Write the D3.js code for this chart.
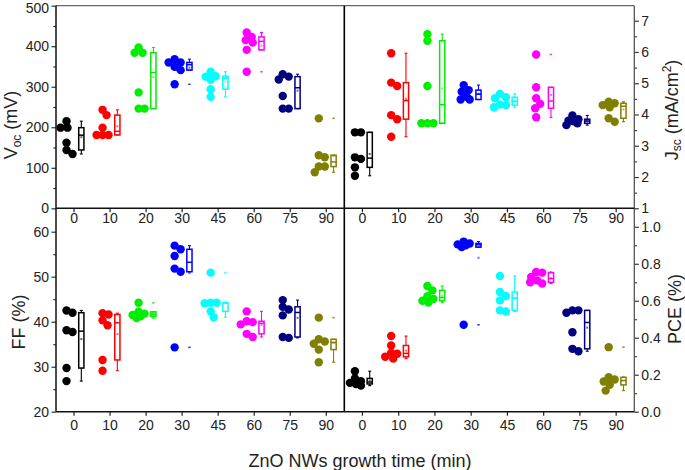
<!DOCTYPE html>
<html><head><meta charset="utf-8">
<script src="https://cdn.jsdelivr.net/npm/d3@7"></script>
<style>body{margin:0;background:#fff} svg{display:block} text{font-family:"Liberation Sans",Arial,sans-serif}</style>
</head><body><svg id="c" width="685" height="470"></svg>
<script>
const categories = ["0","10","20","30","45","60","75","90"];
const colors = ["#000000","#ff0000","#00ee00","#0000ff","#00ffff","#ff00ff","#000080","#808000"];
const vocValues = [[215,199,199,162,144,134],[243,230,199,181,181,181],[397,384,384,286,246,246],[368,360,360,349,341,306],[337,326,325,317,294,275],[434,423,415,409,391,337],[331,325,318,277,246,246],[222,131,126,103,103,89]];
const jscValues = [[3.43,3.43,2.63,2.58,2.31,2.04],[5.96,5.02,4.91,3.98,3.85,3.29],[6.57,6.36,4.91,3.72,3.72,3.72],[4.94,4.78,4.73,4.57,4.48,4.48],[4.66,4.55,4.52,4.32,4.30,4.23],[5.92,4.87,4.52,4.34,4.20,3.91],[3.97,3.85,3.80,3.78,3.72,3.66],[4.41,4.36,4.30,4.23,3.88,3.77]];
const ffValues = [[42.5,42.0,38.1,37.7,29.7,26.8],[41.9,41.6,40.3,39.2,31.5,29.1],[44.2,42.2,41.8,41.5,41.2,40.8],[56.9,56.1,54.6,51.8,51.1,34.3],[50.9,44.2,44.2,44.1,42.3,41.0],[42.3,40.1,39.9,39.4,37.3,36.6],[44.8,43.3,42.7,41.4,36.6,36.4],[40.9,36.1,35.6,35.1,33.8,31.0]];
const pceValues = [[0.219,0.180,0.165,0.156,0.150,0.141],[0.409,0.358,0.318,0.313,0.297,0.287],[0.680,0.656,0.625,0.610,0.600,0.590],[0.920,0.910,0.905,0.900,0.890,0.470],[0.734,0.647,0.626,0.602,0.548,0.542],[0.756,0.752,0.729,0.710,0.700,0.693],[0.548,0.548,0.535,0.430,0.340,0.327],[0.349,0.186,0.174,0.163,0.145,0.114]];
const vocTicks = [0,100,200,300,400,500];
const vocMinor = [50,150,250,350,450];
const jscTicks = [1,2,3,4,5,6,7];
const jscMinor = [1.5,2.5,3.5,4.5,5.5,6.5];
const ffTicks = [20,30,40,50,60];
const ffMinor = [25,35,45,55];
const pceTicks = [0,0.2,0.4,0.6,0.8,1.0];
const pceMinor = [0.1,0.3,0.5,0.7,0.9];
const xTitle = "ZnO NWs growth time (min)";

const svg = d3.select("#c");
const X0 = 56, XM = 344.3, X1 = 634.3, Y0 = 5.7, YM = 208.3, Y1 = 411.7;
const xL = d3.scaleBand().domain(categories).range([X0, XM]);
const xR = d3.scaleBand().domain(categories).range([XM, X1]);
const yVoc = d3.scaleLinear().domain([0,500]).range([YM, Y0]);
const yJsc = d3.scaleLinear().domain([1,7.48]).range([YM, Y0]);
const yFF = d3.scaleLinear().domain([20,65.2]).range([Y1, YM]);
const yPCE = d3.scaleLinear().domain([0,1.1]).range([Y1, YM]);

function stats(vals){
  const s = vals.slice().sort(d3.ascending), n = s.length, h = Math.floor(n/2);
  const lower = s.slice(0, n%2 ? h+1 : h), upper = s.slice(h);
  const q1 = d3.median(lower), q3 = d3.median(upper), med = d3.median(s);
  const iqr = q3-q1, lo = q1-1.5*iqr, hi = q3+1.5*iqr;
  const inside = s.filter(v => v>=lo && v<=hi);
  return {q1, q3, med, mean:d3.mean(s), wlo:d3.min(inside), whi:d3.max(inside), outliers:s.filter(v => v<lo || v>hi)};
}
function swarm(vals, y){
  const D = 6.5, maxDx = 6, placed = [], out = new Array(vals.length);
  const order = vals.map((v,i)=>i).sort((a,b)=>vals[b]-vals[a]);
  order.forEach(i => {
    const py = y(vals[i]);
    let best = 0, bestScore = -1;
    for (let k=0; k<=2*maxDx; k++){
      const dx = (k%2 ? 1 : -1)*Math.ceil(k/2);
      let md = Infinity;
      placed.forEach(p => { md = Math.min(md, Math.hypot(p.x-dx, p.y-py)); });
      if (md >= D){ best = dx; break; }
      if (md > bestScore){ bestScore = md; best = dx; }
    }
    placed.push({x:best, y:py}); out[i] = best;
  });
  return out;
}

const panels = [
  {values:vocValues, x:xL, y:yVoc},
  {values:jscValues, x:xR, y:yJsc},
  {values:ffValues, x:xL, y:yFF},
  {values:pceValues, x:xR, y:yPCE}
];

panels.forEach(p => {
  const g = svg.append("g");
  p.values.forEach((vals, ci) => {
    const c = p.x(categories[ci]) + p.x.bandwidth()/2;
    const col = colors[ci];
    const dxs = swarm(vals, p.y);
    g.selectAll(null).data(vals).join("circle")
      .attr("cx", (d,i) => c - 7.5 + dxs[i]).attr("cy", d => p.y(d)).attr("r", 4.2).attr("fill", col);
    const st = stats(vals), bx = c + 7.3, bw = 5.2;
    const bg = g.append("g").attr("stroke", col).attr("fill", "none").attr("stroke-width", 1.5);
    bg.append("line").attr("x1", bx).attr("x2", bx).attr("y1", p.y(st.q3)).attr("y2", p.y(st.whi)).attr("stroke-width", 1.1);
    bg.append("line").attr("x1", bx).attr("x2", bx).attr("y1", p.y(st.q1)).attr("y2", p.y(st.wlo)).attr("stroke-width", 1.1);
    [st.whi, st.wlo].forEach(v => bg.append("line").attr("x1", bx-1.5).attr("x2", bx+1.5).attr("y1", p.y(v)).attr("y2", p.y(v)).attr("stroke-width", 1.1));
    bg.append("rect").attr("x", bx-bw/2).attr("width", bw).attr("y", p.y(st.q3)).attr("height", Math.max(0.5, p.y(st.q1)-p.y(st.q3)));
    bg.append("line").attr("x1", bx-bw/2).attr("x2", bx+bw/2).attr("y1", p.y(st.med)).attr("y2", p.y(st.med));
    g.append("rect").attr("x", bx-1).attr("y", p.y(st.mean)-1).attr("width", 2).attr("height", 2).attr("fill", col).attr("opacity", 0.6);
    g.selectAll(null).data(st.outliers).join("rect")
      .attr("x", bx-1.2).attr("y", d => p.y(d)-0.8).attr("width", 2.4).attr("height", 1.6).attr("fill", col).attr("opacity", 0.8);
  });
});

// axes
const fnt = g => g.selectAll("text").attr("font-size", 14).attr("fill", "#222").attr("font-family", '"Liberation Sans",Arial,sans-serif');
function yAxis(axisFn, scale, ticks, minor, xpos, fmt){
  svg.append("g").attr("transform", `translate(${xpos},0)`)
    .call(axisFn(scale).tickValues(ticks).tickSize(4.5).tickPadding(2.5).tickSizeOuter(0).tickFormat(fmt))
    .call(g => g.select(".domain").remove()).call(fnt)
    .call(g => g.selectAll("text").filter(d => scale(d) < 10).attr("dy", "0.5em"))
    .call(g => g.selectAll("line").attr("stroke", "#333").attr("stroke-width", 1.2));
  svg.append("g").attr("transform", `translate(${xpos},0)`)
    .call(axisFn(scale).tickValues(minor).tickSize(2.8).tickSizeOuter(0).tickFormat(""))
    .call(g => g.select(".domain").remove())
    .call(g => g.selectAll("line").attr("stroke", "#333").attr("stroke-width", 1.1));
}
yAxis(d3.axisLeft, yVoc, vocTicks, vocMinor, X0, d3.format("d"));
yAxis(d3.axisLeft, yFF, ffTicks, ffMinor, X0, d3.format("d"));
yAxis(d3.axisRight, yJsc, jscTicks, jscMinor, X1, d3.format("d"));
yAxis(d3.axisRight, yPCE, pceTicks, pceMinor, X1, d3.format(".1f"));

function xAxis(scale, ypos, pad){
  svg.append("g").attr("transform", `translate(0,${ypos})`)
    .call(d3.axisBottom(scale).tickSize(4).tickPadding(pad).tickSizeOuter(0))
    .call(g => g.select(".domain").remove()).call(fnt)
    .call(g => g.selectAll("line").attr("stroke", "#222").attr("stroke-width", 1.2));
}
xAxis(xL, YM, 1.2); xAxis(xR, YM, 1.2);
xAxis(xL, Y1, 4.3); xAxis(xR, Y1, 4.3);

const frame = svg.append("g").attr("fill", "none");
frame.append("line").attr("x1", X0).attr("x2", X1).attr("y1", Y0).attr("y2", Y0).attr("stroke", "#666").attr("stroke-width", 1.2);
frame.append("line").attr("x1", X1).attr("x2", X1).attr("y1", Y0).attr("y2", Y1).attr("stroke", "#555").attr("stroke-width", 1.3);
frame.append("line").attr("x1", X0).attr("x2", X0).attr("y1", Y0).attr("y2", Y1).attr("stroke", "#111").attr("stroke-width", 1.5);
frame.append("line").attr("x1", XM).attr("x2", XM).attr("y1", Y0).attr("y2", Y1).attr("stroke", "#000").attr("stroke-width", 1.6);
frame.append("line").attr("x1", X0).attr("x2", X1).attr("y1", YM).attr("y2", YM).attr("stroke", "#111").attr("stroke-width", 1.4);
frame.append("line").attr("x1", X0).attr("x2", X1).attr("y1", Y1).attr("y2", Y1).attr("stroke", "#111").attr("stroke-width", 1.4);

// titles
function rotTitle(x, y, parts){
  const t = svg.append("text").attr("transform", `translate(${x},${y}) rotate(-90)`)
    .attr("text-anchor", "middle").attr("font-size", 18).attr("fill", "#222");
  parts.forEach(([s, size, dy]) => t.append("tspan").attr("font-size", size).attr("dy", dy).text(s));
}
rotTitle(17, 125, [["V",18,0],["oc",12,4],[" (mV)",18,-4]]);
rotTitle(25, 322, [["FF (%)",18,0]]);
rotTitle(678, 110, [["J",18,0],["sc",12,3],[" (mA/cm",18,-3],["2",12,-7],[")",18,7]]);
rotTitle(681, 309, [["PCE (%)",18,0]]);
svg.append("text").attr("x", 360).attr("y", 467).attr("text-anchor", "middle")
  .attr("font-size", 18).attr("fill", "#222").text(xTitle);
</script></body></html>
